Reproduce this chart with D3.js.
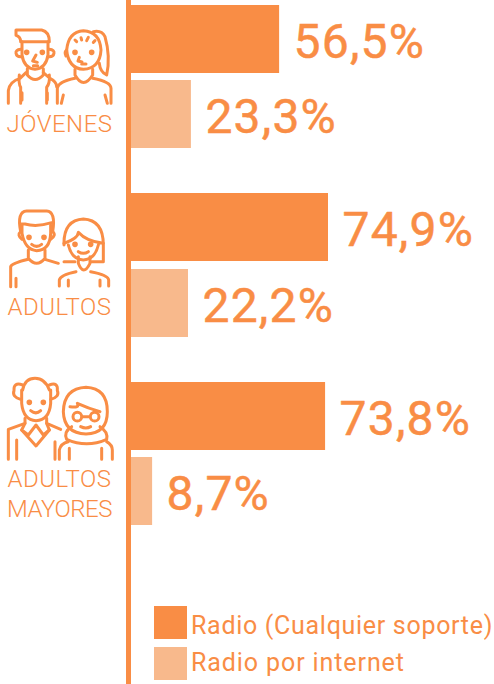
<!DOCTYPE html>
<html>
<head>
<meta charset="utf-8">
<title>Radio por edad</title>
<style>
    html, body { margin: 0; padding: 0; background: #fff; }
    svg { display: block; }
    text { font-family: Roboto, sans-serif; fill: #f98d45; }
</style>
</head>
<body>
<svg id="chart"></svg>
<script src="https://cdnjs.cloudflare.com/ajax/libs/d3/7.8.5/d3.min.js"></script>
<script>
    // Data
    const groups = ["JÓVENES", "ADULTOS", "ADULTOS MAYORES"];
    const radioTotal = [56.5, 74.9, 73.8];
    const radioInternet = [23.3, 22.2, 8.7];
    const seriesNames = ["Radio (Cualquier soporte)", "Radio por internet"];
    const seriesColors = ["#f98d45", "#f8b98c"];

    const width = 494, height = 684;
    const svg = d3.select("#chart").attr("width", width).attr("height", height);

    // one slot per group, two bars inside each
    const y = d3.scalePoint().domain(groups).range([5, 382]);
    const x = d3.scaleLinear().domain([0, 74.9]).range([129, 328]);
    const barH = 68, barGap = 75.6;
    const barTop = d => Math.floor(y(d.g) + d.s * barGap);

    const rows = groups.flatMap((g, i) => [
        { g, s: 0, v: radioTotal[i] },
        { g, s: 1, v: radioInternet[i] },
    ]);

    svg.append("g").selectAll("rect").data(rows).enter().append("rect")
        .attr("x", x(0))
        .attr("y", barTop)
        .attr("width", d => x(d.v) - x(0))
        .attr("height", barH)
        .attr("fill", d => seriesColors[d.s]);

    svg.append("g").selectAll("text").data(rows).enter().append("text")
        .attr("x", d => x(d.v) + 14.5)
        .attr("y", d => barTop(d) + 53)
        .attr("font-size", 48)
        .attr("letter-spacing", 1.2)
        .style("stroke", "#f98d45")
        .style("stroke-width", 0.5)
        .text(d => d.v.toFixed(1).replace(".", ",") + "%");

    // vertical axis line, runs the full height
    svg.append("rect").attr("x", 126).attr("y", 0).attr("width", 5).attr("height", height).attr("fill", "#f98d45");

    // group labels
    const labelLines = [["JÓVENES"], ["ADULTOS"], ["ADULTOS", "MAYORES"]];
    const labelY = [132, 315, 487];
    labelLines.forEach((lines, i) => {
        lines.forEach((t, j) => {
            svg.append("text")
                .attr("x", 59.5).attr("y", labelY[i] + j * 30)
                .attr("text-anchor", "middle")
                .attr("font-size", 24)
                .attr("font-weight", 300)
                .attr("letter-spacing", t === "MAYORES" ? -0.5 : 0.5)
                .text(t);
        });
    });

    // legend
    const legend = svg.append("g").selectAll("g").data(seriesNames).enter().append("g")
        .attr("transform", (d, i) => `translate(154, ${606 + i * 41})`);
    legend.append("rect").attr("width", 33).attr("height", 33).attr("fill", (d, i) => seriesColors[i]);
    legend.append("text").attr("x", 37).attr("y", (d, i) => 28 - i * 4).attr("font-size", 25)
        .attr("letter-spacing", (d, i) => i ? 0.9 : 0.7).text(d => d);

    // people icons, drawn in zoomed-crop units (3x)
    const icons = [
        { at: [0, 0], paths: [
            "M48 90H125Q148 95 148 125H62Q62 110 48 106Z",
            "M66 125V165Q72 205 105 208Q138 205 144 165V125",
            "M62 148Q46 150 48 160Q50 172 66 170M148 148Q164 150 162 160Q160 172 144 170",
            "M108 165L98 183L112 187M100 197H113",
            "M82 206V225Q105 252 130 225V206",
            "M25 310V272Q28 245 60 235L78 218M58 225Q55 250 62 262V310",
            "M130 218L150 235Q170 245 170 260M148 225Q150 250 140 262V310M66 278V300M142 278V300",
            "M200 150Q205 95 250 92Q300 95 303 150Q300 205 250 208Q205 205 200 150Z",
            "M280 95Q305 90 315 110Q332 170 320 225Q300 215 298 190",
            "M225 120L230 125M243 113L245 120M265 112L260 122M285 122L280 127",
            "M200 150Q192 155 198 168M238 172L234 183L246 186M245 192H258",
            "M225 208V225Q250 270 278 225V208",
            "M172 310V265Q175 245 225 235M278 235Q332 245 333 265V310M190 285L184 310M315 285L322 310",
        ], dots: [[80, 157], [127, 157], [225, 157], [275, 157]] },
        { at: [0, 200], paths: [
            "M62 95Q50 35 80 33H140Q168 35 158 95",
            "M62 72L75 72Q110 82 155 68",
            "M66 75V100Q75 150 110 152Q150 150 152 100V75",
            "M62 95Q50 105 66 118M158 95Q170 105 152 118",
            "M95 133Q110 145 125 133",
            "M85 150V175Q110 205 135 175V150",
            "M32 260V200Q35 190 85 178M135 178L175 190M48 235V260",
            "M192 135Q190 60 250 57Q310 60 310 135V185H275",
            "M192 185H225M192 130Q235 115 235 97Q260 125 310 130M205 135Q215 178 250 180Q285 178 295 135",
            "M235 170V190Q250 230 270 190V170",
            "M178 258V240Q180 225 228 215M272 215Q325 225 326 240V258M205 240V258M300 240V258",
            "M235 155Q250 165 265 155",
        ], dots: [[87, 112], [132, 112], [225, 133], [272, 133]] },
        { at: [0, 370], paths: [
            "M68 60Q75 25 105 25Q135 25 148 60",
            "M68 45Q40 35 42 62Q35 80 62 88M148 45Q175 35 172 62Q180 80 152 88",
            "M65 60V100Q70 150 108 152Q148 150 152 100V60",
            "M92 122Q108 135 122 122",
            "M75 145V160L25 178V268M140 145V160L182 178",
            "M75 160L65 180L85 195L108 165L130 195L148 180L140 160",
            "M65 180L108 228L148 180M50 210V268M165 215V268",
            "M190 125Q192 55 258 52Q322 55 322 125Q322 190 258 192Q192 190 190 125Z",
            "M210 110Q240 115 232 100Q265 115 300 125",
            "M242 170Q258 178 272 170",
            "M215 170Q190 185 200 208Q260 235 320 208Q325 185 300 170",
            "M178 268V240Q182 220 205 215M320 215Q337 225 337 240V268M208 235V268M305 235V268",
            "M248 140H268",
        ], circles: [[232, 140], [284, 140]], dots: [[88, 97], [130, 97]] },
    ];

    const iconGroup = svg.append("g").attr("fill", "none").attr("stroke", "#f98d45").attr("stroke-width", 9)
        .attr("stroke-linecap", "round").attr("stroke-linejoin", "round");
    icons.forEach(icon => {
        const g = iconGroup.append("g").attr("transform", `translate(${icon.at}) scale(${1 / 3})`);
        icon.paths.forEach(p => g.append("path").attr("d", p));
        icon.dots.forEach(c => g.append("circle").attr("cx", c[0]).attr("cy", c[1]).attr("r", 4).attr("fill", "#f98d45"));
        (icon.circles || []).forEach(c => g.append("circle").attr("cx", c[0]).attr("cy", c[1]).attr("r", 13));
    });
</script>
</body>
</html>
